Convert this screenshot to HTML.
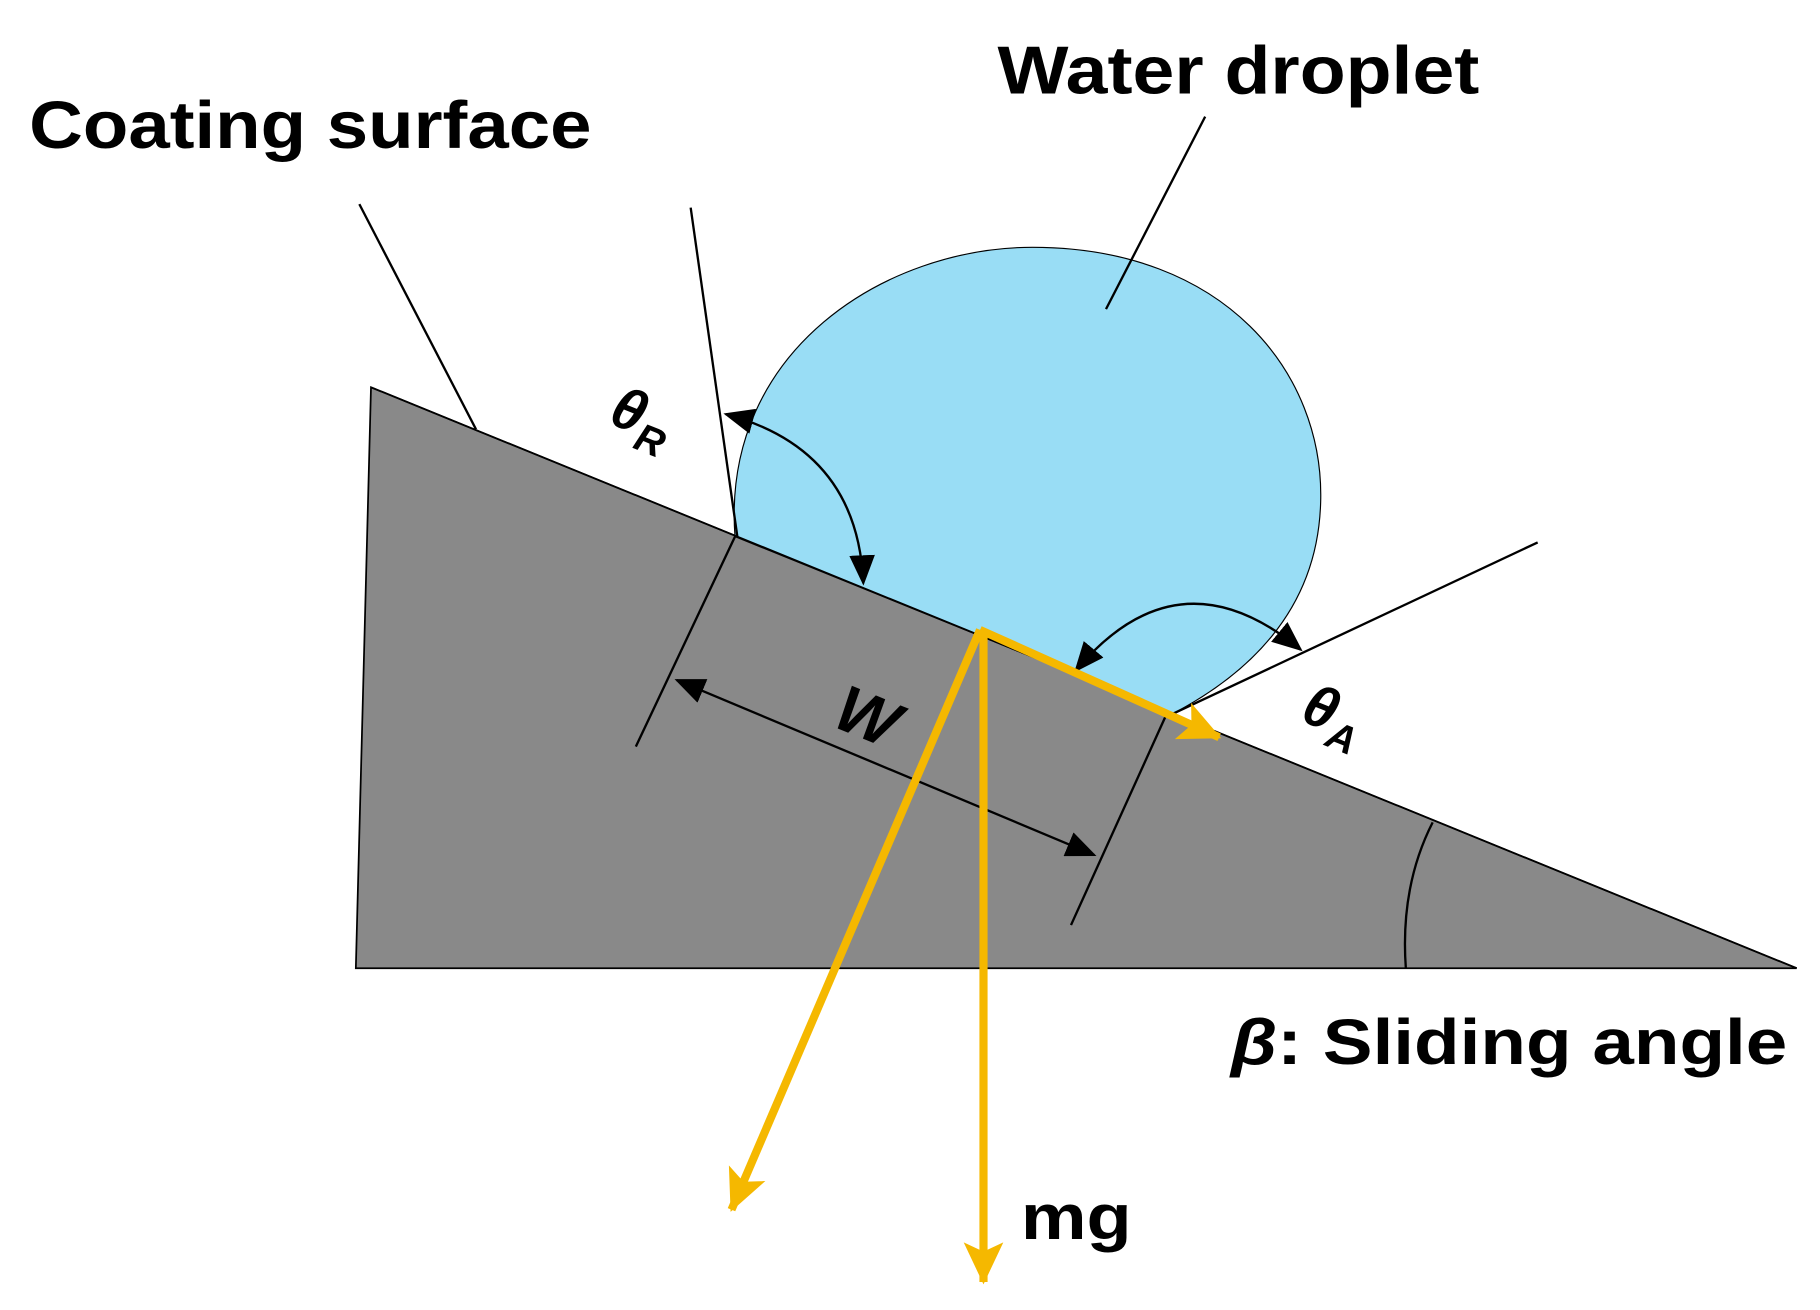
<!DOCTYPE html>
<html><head><meta charset="utf-8"><style>html,body{margin:0;padding:0;background:#fff}svg{display:block}</style></head>
<body>
<svg width="1820" height="1310" viewBox="0 0 1560 1123" preserveAspectRatio="none" xmlns="http://www.w3.org/2000/svg" font-family="Liberation Sans, Arial, sans-serif">
<defs>
<marker id="abk" markerWidth="26" markerHeight="22" refX="24" refY="11" orient="auto-start-reverse" markerUnits="userSpaceOnUse"><path d="M0,0 L26,11 L0,22 z" fill="#000"/></marker>
<marker id="ao" markerWidth="36" markerHeight="34" refX="34" refY="17" orient="auto" markerUnits="userSpaceOnUse"><path d="M0,0 L36,17 L0,34 L8,17 z" fill="#F5B800"/></marker>
</defs>
<polygon points="318,332 305,830 1540,830" fill="#898989" stroke="#000" stroke-width="1.5"/>
<path d="M630,460 C618,300 760,212 885,212 C1050,212 1135,320 1132,430 C1130,510 1085,570 1005,612 Z" fill="#99DDF5" stroke="#000" stroke-width="1"/>
<line x1="318" y1="332" x2="1540" y2="830" stroke="#000" stroke-width="1.5"/>
<g stroke="#000" stroke-width="2" fill="none">
<line x1="308" y1="175" x2="408" y2="368"/>
<line x1="1033" y1="100" x2="948" y2="265"/>
<line x1="592" y1="178" x2="632" y2="460"/>
<line x1="1005" y1="612" x2="1318" y2="465"/>
<line x1="630" y1="460" x2="545" y2="640"/>
<line x1="1000" y1="612" x2="918" y2="793"/>
<line x1="580" y1="583" x2="938" y2="733" marker-start="url(#abk)" marker-end="url(#abk)"/>
<path d="M622,355 Q735,385 740,500" marker-start="url(#abk)" marker-end="url(#abk)"/>
<path d="M922,575 Q1010,470 1115,557" marker-start="url(#abk)" marker-end="url(#abk)"/>
<path d="M1228,705 Q1200,760 1205,830"/>
</g>
<g stroke="#F5B800" stroke-width="7" fill="none">
<line x1="840" y1="540" x2="1045" y2="632" marker-end="url(#ao)"/>
<line x1="840" y1="540" x2="627" y2="1037" marker-end="url(#ao)"/>
<line x1="843" y1="540" x2="843" y2="1099" marker-end="url(#ao)"/>
</g>
<g font-weight="bold" fill="#000">
<text x="855" y="80" font-size="58" textLength="413" lengthAdjust="spacingAndGlyphs">Water droplet</text>
<text x="25" y="127" font-size="57" textLength="482" lengthAdjust="spacingAndGlyphs">Coating surface</text>
<text x="1055" y="912" font-size="55" textLength="477" lengthAdjust="spacingAndGlyphs"><tspan font-style="italic">β</tspan>: Sliding angle</text>
<text x="875" y="1062" font-size="55" textLength="95" lengthAdjust="spacingAndGlyphs">mg</text>
<text transform="translate(520,362) rotate(22)" font-size="50" font-style="italic">θ<tspan font-size="34" dy="12">R</tspan></text>
<text transform="translate(1113,617) rotate(22)" font-size="50" font-style="italic">θ<tspan font-size="34" dy="12">A</tspan></text>
<text transform="translate(712,622) rotate(22)" font-size="56" font-style="italic">W</text>
</g>
</svg>
</body></html>
